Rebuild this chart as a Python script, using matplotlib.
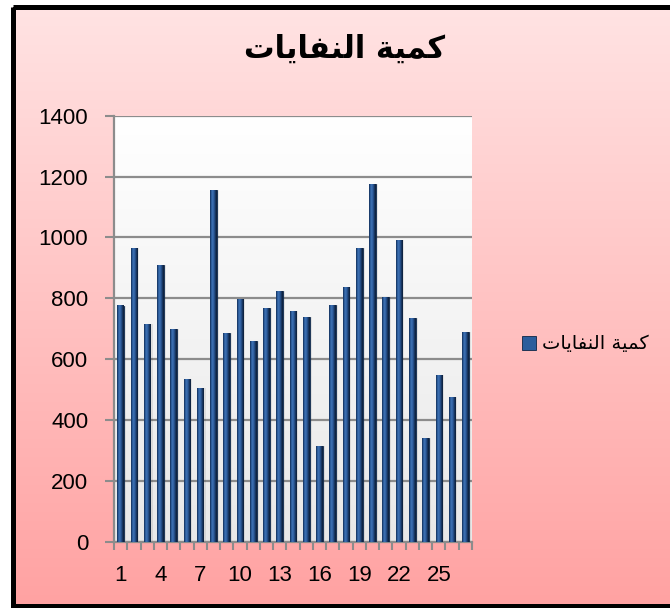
import numpy as np
import matplotlib.pyplot as plt
from matplotlib.patches import Rectangle

plt.rcParams['font.family'] = ['Liberation Sans', 'DejaVu Sans']

# waste amount per day of the month
days = np.arange(1, 28)
waste = [776, 964, 714, 908, 698, 534, 504, 1155, 685, 797, 659, 767, 823, 757,
         737, 313, 777, 838, 964, 1175, 803, 990, 734, 340, 547, 475, 688]
y_ticks = [0, 200, 400, 600, 800, 1000, 1200, 1400]
x_labels = [1, 4, 7, 10, 13, 16, 19, 22, 25]

# "كمية النفايات" written with joined letter forms in display order,
# since matplotlib does no Arabic shaping on its own
title = '\ufe95\ufe8e\ufef3\ufe8e\ufed4\ufee8\ufedf\ufe8d \ufe94\ufef4\ufee4\ufedb'

W, H = 670, 608
fig = plt.figure(figsize=(W / 100, H / 100), dpi=100, facecolor='white')

# pink chart background with black frame
bg = fig.add_axes([0, 0, 1, 1], zorder=-10)
bg.set_xlim(0, W)
bg.set_ylim(H, 0)
bg.axis('off')
t = np.linspace(0, 1, 256)[:, None, None]
top_c = np.array([255, 227, 227]) / 255
bot_c = np.array([255, 162, 162]) / 255
bg.imshow(top_c + (bot_c - top_c) * t, extent=(12, W, 605, 7), aspect='auto')
bg.add_patch(Rectangle((12.5, 7), 700, 598.5, fill=False, lw=3.6, ec='black'))

# plot area
ax = fig.add_axes([114 / W, 1 - 541.7 / H, 358 / W, 426 / H])
pa = np.linspace(1.0, 0.91, 256)[:, None, None] * np.ones((1, 1, 3))
ax.imshow(pa, extent=(0.5, 27.5, 0, 1400), aspect='auto', zorder=-1)

# soft shadow behind the bars
ax.bar(days + 0.13, waste, width=0.55, color='black', alpha=0.08, lw=0, zorder=2)
bars = ax.bar(days, waste, width=0.5, color='#2b5d9c', edgecolor='#0e2646',
              lw=0.6, zorder=3)

# horizontal shading on each bar
cols = np.array([[18, 44, 82], [40, 88, 150], [62, 114, 180], [52, 100, 166],
                 [34, 74, 130], [20, 46, 84], [12, 30, 56]]) / 255
xs = np.linspace(0, 1, len(cols))
xi = np.linspace(0, 1, 40)
shade = np.stack([np.interp(xi, xs, cols[:, k]) for k in range(3)], axis=-1)[None]
for b in bars:
    x0, w, h = b.get_x(), b.get_width(), b.get_height()
    ax.imshow(shade, extent=(x0, x0 + w, 0, h), aspect='auto', zorder=3.5)

ax.set_xlim(0.5, 27.5)
ax.set_ylim(0, 1400)
ax.set_yticks(y_ticks)
ax.set_xticks(x_labels)
ax.set_xticks(np.arange(0.5, 28), minor=True)
ax.yaxis.grid(True, color='#8c8c8c', lw=1.6)
ax.set_axisbelow(True)

ax.tick_params(axis='x', which='major', length=0, pad=17, labelsize=16)
ax.tick_params(axis='x', which='minor', length=5.5, width=1.5,
               color='#8c8c8c', direction='out')
ax.tick_params(axis='y', length=6.5, width=1.5, color='#8c8c8c', pad=12,
               labelsize=16)
for s in ['top', 'right']:
    ax.spines[s].set_visible(False)
for s in ['left', 'bottom']:
    ax.spines[s].set_color('#8c8c8c')
    ax.spines[s].set_linewidth(1.6)

fig.text(345 / W, 1 - 49 / H, title, ha='center', va='center',
         fontsize=22, fontweight='heavy', family='DejaVu Sans')

fig.legend([bars], [title], loc='center left',
           bbox_to_anchor=(514 / W, 1 - 344 / H), frameon=False,
           prop={'family': 'DejaVu Sans', 'size': 14},
           handlelength=0.75, handleheight=0.75, handletextpad=0.3,
           borderaxespad=0)

fig.savefig('out.png', dpi=100)
